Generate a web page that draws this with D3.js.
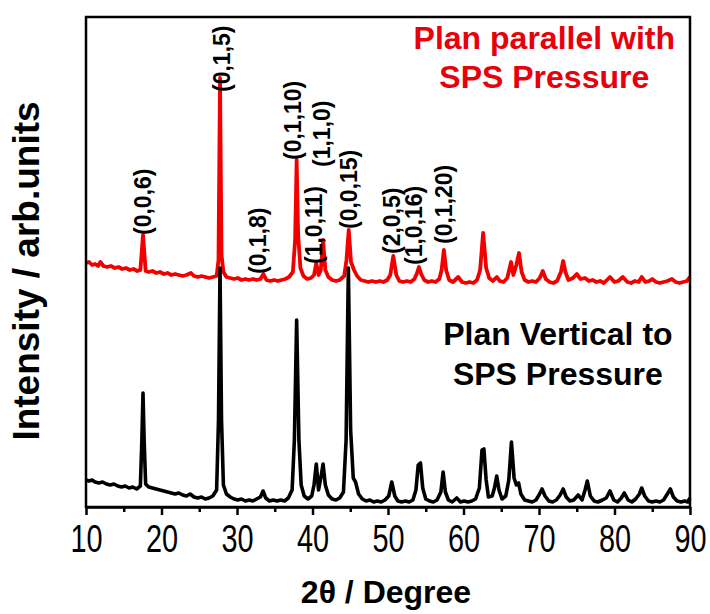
<!DOCTYPE html>
<html>
<head>
<meta charset="utf-8">
<script src="https://cdn.jsdelivr.net/npm/d3@7"></script>
<style>
  body { margin: 0; background: #fff; }
  text { font-family: "Liberation Sans", Arial, sans-serif; }
</style>
</head>
<body>
<div id="xrd"></div>
<script>
// XRD patterns, 2theta in degrees, intensity in arb. units (stacked as plotted)
var parallelPattern = [
  [10.0,244],[10.4,245],[10.8,242],[11.2,243],[11.6,241],[11.9,245],[12.3,241],[12.8,240],
  [13.3,241],[13.8,239],[14.3,240],[14.8,238],[15.3,239],[15.8,237],[16.3,238],[16.8,236],
  [17.2,237],[17.55,272],[17.9,236],[18.3,235],[18.8,236],[19.3,234],[19.8,235],[20.3,233],
  [20.8,234],[21.3,232],[21.8,233],[22.3,232],[22.8,231],[23.3,232],[23.9,234],[24.3,231],
  [24.8,230],[25.3,231],[25.8,230],[26.3,229],[26.8,230],[27.3,231],[27.55,247],[27.75,429],
  [27.95,252],[28.2,235],[28.6,230],[29.1,229],[29.6,228],[30.1,229],[30.6,227],[31.1,228],
  [31.6,227],[32.1,228],[32.6,227],[33.1,228],[33.5,233],[33.9,227],[34.4,226],[34.9,227],
  [35.4,226],[35.9,227],[36.4,228],[36.9,230],[37.4,235],[37.7,267],[37.9,347],[38.1,272],
  [38.4,239],[38.8,231],[39.3,228],[39.8,229],[40.2,232],[40.5,244],[40.8,232],[41.1,237],
  [41.4,267],[41.7,237],[42.1,230],[42.6,227],[43.1,226],[43.6,227],[44.2,231],[44.5,247],
  [44.8,277],[45.1,245],[45.5,237],[45.9,231],[46.4,227],[46.9,226],[47.4,225],[47.9,226],
  [48.4,225],[48.9,226],[49.4,225],[49.9,227],[50.3,232],[50.7,251],[51.1,232],[51.5,226],
  [52.0,225],[52.5,226],[53.0,225],[53.5,228],[53.8,233],[54.1,240],[54.4,233],[54.8,227],
  [55.3,225],[55.8,226],[56.3,225],[56.8,228],[57.1,237],[57.4,257],[57.7,237],[58.1,227],
  [58.6,225],[59.3,230],[59.8,225],[60.3,224],[60.8,225],[61.3,224],[61.8,227],[62.2,237],
  [62.6,274],[63.0,239],[63.4,229],[63.9,226],[64.4,230],[64.8,226],[65.3,225],[65.8,229],
  [66.3,245],[66.6,232],[67.0,242],[67.35,254],[67.7,235],[68.1,227],[68.6,225],[69.1,226],
  [69.6,225],[70.1,229],[70.5,236],[70.9,228],[71.4,225],[71.9,224],[72.4,226],[72.9,235],
  [73.2,246],[73.5,235],[73.9,227],[74.5,229],[75.0,233],[75.5,228],[76.1,229],[76.6,226],
  [77.1,227],[77.6,225],[78.1,226],[78.6,224],[79.4,230],[80.0,225],[80.5,226],[81.1,230],
  [81.7,225],[82.2,224],[82.7,226],[83.2,225],[83.6,230],[84.1,225],[84.6,226],[85.0,228],
  [85.5,225],[86.0,224],[86.5,225],[87.0,226],[87.6,228],[88.1,225],[88.6,224],[89.1,225],
  [89.6,226],[90.0,230]
];

var verticalPattern = [
  [10.0,27],[10.4,26],[10.8,27],[11.2,25],[11.7,24],[12.2,25],[12.7,23],[13.2,22],
  [13.7,23],[14.2,21],[14.7,20],[15.2,21],[15.7,19],[16.2,20],[16.7,18],[17.2,21],
  [17.4,67],[17.55,114],[17.7,67],[17.9,23],[18.3,20],[18.8,19],[19.3,18],[19.8,17],
  [20.3,16],[20.8,15],[21.3,14],[21.8,13],[22.3,14],[22.8,12],[23.3,11],[23.8,13],
  [24.3,10],[24.8,9],[25.3,10],[25.8,8],[26.3,9],[26.8,11],[27.3,17],[27.55,87],
  [27.75,239],[27.95,87],[28.2,22],[28.6,13],[29.1,10],[29.6,8],[30.1,7],[30.6,8],
  [31.1,6],[31.6,7],[32.1,6],[32.6,8],[33.1,10],[33.45,16],[33.8,9],[34.3,6],
  [34.8,7],[35.3,6],[35.8,7],[36.3,6],[36.8,9],[37.3,17],[37.6,67],[37.9,187],
  [38.2,67],[38.5,22],[38.9,11],[39.4,8],[39.9,11],[40.2,22],[40.5,43],[40.8,17],
  [41.1,29],[41.4,43],[41.7,22],[42.1,12],[42.6,8],[43.1,7],[43.6,9],[44.1,15],
  [44.45,67],[44.75,239],[45.05,77],[45.4,29],[45.7,25],[46.1,13],[46.6,8],[47.1,6],
  [47.6,7],[48.1,5],[48.6,6],[49.1,5],[49.6,7],[50.1,11],[50.5,25],[50.9,11],
  [51.3,6],[51.8,5],[52.3,6],[52.8,5],[53.3,7],[53.7,17],[54.0,42],[54.3,44],
  [54.6,19],[55.0,8],[55.5,6],[56.0,5],[56.5,7],[57.0,15],[57.3,35],[57.6,15],
  [58.0,7],[58.5,5],[59.1,9],[59.6,5],[60.1,6],[60.6,5],[61.1,6],[61.6,8],
  [62.1,19],[62.45,57],[62.7,58],[63.0,27],[63.3,10],[63.8,11],[64.1,19],[64.4,31],
  [64.7,17],[65.1,8],[65.6,11],[66.0,27],[66.35,65],[66.7,29],[67.0,22],[67.3,24],
  [67.6,13],[68.1,7],[68.6,6],[69.1,5],[69.6,7],[70.0,12],[70.4,18],[70.8,11],
  [71.3,6],[71.8,5],[72.3,7],[72.8,12],[73.2,18],[73.6,10],[74.1,6],[74.6,7],
  [75.2,12],[75.7,7],[76.1,17],[76.4,26],[76.8,11],[77.3,6],[77.8,5],[78.4,7],
  [78.9,9],[79.4,16],[79.9,7],[80.4,5],[80.9,9],[81.3,14],[81.8,7],[82.3,5],
  [82.8,8],[83.3,13],[83.6,19],[84.0,11],[84.5,6],[85.0,5],[85.5,6],[86.0,5],
  [86.5,7],[87.0,13],[87.4,18],[87.8,10],[88.3,6],[88.8,5],[89.3,6],[89.7,5],
  [90.0,9]
];

// (hkl) indexing of the parallel pattern
var hklNames = ["(0,0,6)","(0,1,5)","(0,1,8)","(0,1,10)","(1,0,11)","(1,1,0)","(0,0,15)","(2,0,5)","(1,0,16)","(0,1,20)"];
var hklTheta = [17.55, 28.0, 32.7, 37.4, 40.1, 41.25, 44.8, 50.5, 53.4, 57.4];
var hklLevel = [272, 415, 233, 347, 243, 340, 278, 253, 242, 263];

var xTicks = [10,20,30,40,50,60,70,80,90];
var xMinorTicks = [15,25,35,45,55,65,75,85];

var W = 710, H = 614;
var margin = {top:17, right:20, bottom:107, left:86},
w = W - margin.left - margin.right,
h = H - margin.top - margin.bottom;

var svg = d3.select("#xrd")
  .append("svg")
  .attr("width", W)
  .attr("height", H)
  .append("g")
  .attr("transform", `translate(${margin.left},${margin.top})`);

var x = d3.scaleLinear().domain([10,90]).range([0,w]);
var y = d3.scaleLinear().domain([0,490]).range([h,0]);

var line = d3.line()
  .x(function(d){ return x(d[0]); })
  .y(function(d){ return y(d[1]); });

// red pattern first, black drawn over it
svg.append("path")
  .datum(parallelPattern)
  .attr("d", line)
  .attr("fill","none")
  .attr("stroke","#f20000")
  .attr("stroke-width",3.8)
  .attr("stroke-linejoin","round");

svg.append("path")
  .datum(verticalPattern)
  .attr("d", line)
  .attr("fill","none")
  .attr("stroke","#000")
  .attr("stroke-width",3.6)
  .attr("stroke-linejoin","round");

// frame
svg.append("rect")
  .attr("x",0).attr("y",0)
  .attr("width",w).attr("height",h)
  .attr("fill","none")
  .attr("stroke","#000")
  .attr("stroke-width",2.5);

// x axis, major + minor ticks
var xAxis = svg.append("g")
  .attr("transform",`translate(0,${h})`)
  .call(d3.axisBottom(x).tickValues(xTicks).tickSize(8).tickSizeOuter(0).tickPadding(9));
xAxis.select(".domain").attr("stroke-width",2.5);
xAxis.selectAll(".tick line").attr("stroke-width",2.5);
xAxis.selectAll(".tick text")
  .attr("font-size",38)
  .attr("fill","#000")
  .attr("transform","scale(0.76,1)")
  .attr("x",0)
  .attr("dy","0.74em");

svg.append("g")
  .attr("transform",`translate(0,${h})`)
  .call(d3.axisBottom(x).tickValues(xMinorTicks).tickSize(5).tickFormat(""))
  .call(function(g){ g.select(".domain").remove(); })
  .selectAll(".tick line").attr("stroke-width",2.5);

// hkl labels
svg.selectAll(".hkl")
  .data(hklNames)
  .enter()
  .append("text")
  .attr("class","hkl")
  .attr("transform", function(d,i){ return `translate(${x(hklTheta[i])},${y(hklLevel[i])}) rotate(-90)`; })
  .attr("dy","0.36em")
  .attr("font-size",23)
  .attr("font-weight","bold")
  .attr("fill","#000")
  .text(function(d){ return d; });

// legend-style annotations
var redNote = svg.append("text")
  .attr("x", x(70.7)).attr("y", 32)
  .attr("text-anchor","middle")
  .attr("font-size",32)
  .attr("font-weight","bold")
  .attr("fill","#e8000b");
redNote.append("tspan").attr("x", x(70.7)).attr("dy",0).text("Plan parallel with");
redNote.append("tspan").attr("x", x(70.7)).attr("dy",39).text("SPS Pressure");

var blackNote = svg.append("text")
  .attr("x", x(72.5)).attr("y", 328)
  .attr("text-anchor","middle")
  .attr("font-size",32)
  .attr("font-weight","bold")
  .attr("fill","#000");
blackNote.append("tspan").attr("x", x(72.5)).attr("dy",0).text("Plan Vertical to");
blackNote.append("tspan").attr("x", x(72.5)).attr("dy",40).text("SPS Pressure");

// axis titles
svg.append("text")
  .attr("x", w/2 - 2).attr("y", h + 96)
  .attr("text-anchor","middle")
  .attr("font-size",32)
  .attr("font-weight","bold")
  .text("2θ / Degree");

svg.append("text")
  .attr("transform", `translate(${-47},${h/2 + 9}) rotate(-90)`)
  .attr("text-anchor","middle")
  .attr("font-size",37)
  .attr("font-weight","bold")
  .text("Intensity / arb.units");
</script>
</body>
</html>
